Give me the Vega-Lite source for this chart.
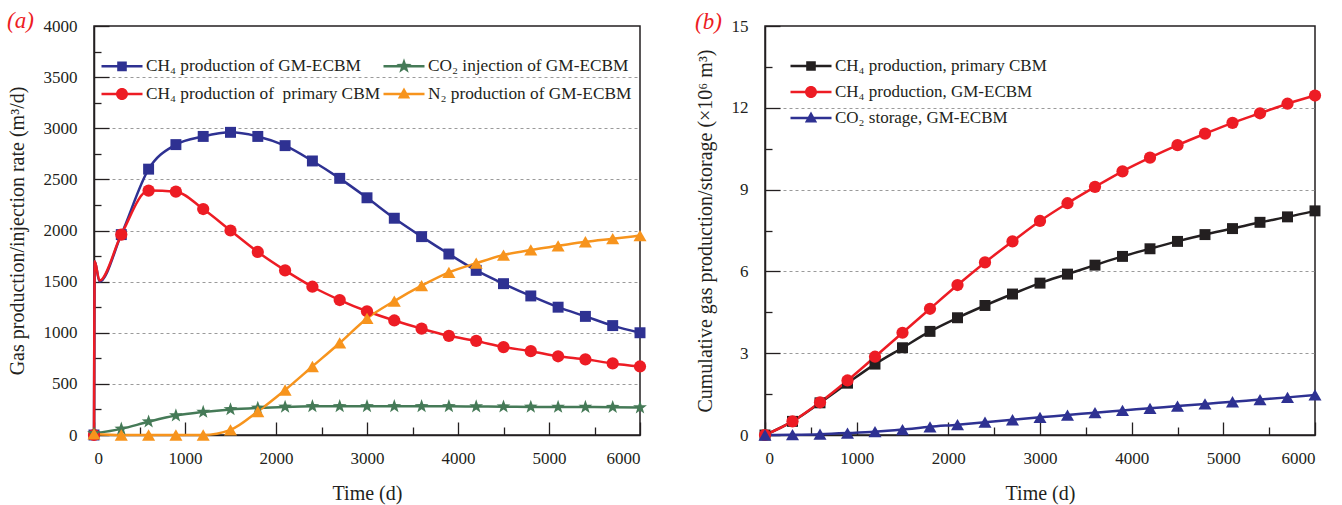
{
  "$schema": "https://vega.github.io/schema/vega-lite/v6.json",
  "background": "white",
  "padding": {"left": 6, "top": 9, "right": 6, "bottom": 2},
  "spacing": 46,
  "resolve": {
    "scale": {"color": "independent"},
    "legend": {"color": "independent"}
  },
  "config": {
    "font": "Liberation Serif",
    "view": {"stroke": "#231F20", "strokeWidth": 1.5},
    "axis": {
      "labelFont": "Liberation Serif", "labelFontSize": 17, "labelColor": "#231F20",
      "titleFont": "Liberation Serif", "titleFontSize": 20, "titleFontWeight": "normal", "titleColor": "#231F20",
      "domainColor": "#231F20", "domainWidth": 1.5, "tickColor": "#231F20", "tickWidth": 1.3,
      "gridColor": "#9a9a9a", "gridDash": [3, 3], "gridWidth": 1
    },
    "legend": {"labelFont": "Liberation Serif", "labelFontSize": 17.3, "labelColor": "#231F20", "labelLimit": 400}
  },
  "datasets": {
    "rate": [
      {"t": 0, "v": 0, "series": "CH₄ production of GM-ECBM"},
      {"t": 8, "v": 1700, "series": "CH₄ production of GM-ECBM"},
      {"t": 60, "v": 1500, "series": "CH₄ production of GM-ECBM"},
      {"t": 300, "v": 1960, "series": "CH₄ production of GM-ECBM"},
      {"t": 600, "v": 2600, "series": "CH₄ production of GM-ECBM"},
      {"t": 900, "v": 2840, "series": "CH₄ production of GM-ECBM"},
      {"t": 1200, "v": 2920, "series": "CH₄ production of GM-ECBM"},
      {"t": 1500, "v": 2960, "series": "CH₄ production of GM-ECBM"},
      {"t": 1800, "v": 2920, "series": "CH₄ production of GM-ECBM"},
      {"t": 2100, "v": 2830, "series": "CH₄ production of GM-ECBM"},
      {"t": 2400, "v": 2680, "series": "CH₄ production of GM-ECBM"},
      {"t": 2700, "v": 2510, "series": "CH₄ production of GM-ECBM"},
      {"t": 3000, "v": 2320, "series": "CH₄ production of GM-ECBM"},
      {"t": 3300, "v": 2120, "series": "CH₄ production of GM-ECBM"},
      {"t": 3600, "v": 1940, "series": "CH₄ production of GM-ECBM"},
      {"t": 3900, "v": 1770, "series": "CH₄ production of GM-ECBM"},
      {"t": 4200, "v": 1610, "series": "CH₄ production of GM-ECBM"},
      {"t": 4500, "v": 1480, "series": "CH₄ production of GM-ECBM"},
      {"t": 4800, "v": 1360, "series": "CH₄ production of GM-ECBM"},
      {"t": 5100, "v": 1250, "series": "CH₄ production of GM-ECBM"},
      {"t": 5400, "v": 1160, "series": "CH₄ production of GM-ECBM"},
      {"t": 5700, "v": 1070, "series": "CH₄ production of GM-ECBM"},
      {"t": 6000, "v": 1000, "series": "CH₄ production of GM-ECBM"},
      {"t": 0, "v": 0, "series": "CH₄ production of\u00a0 primary CBM"},
      {"t": 8, "v": 1700, "series": "CH₄ production of\u00a0 primary CBM"},
      {"t": 60, "v": 1510, "series": "CH₄ production of\u00a0 primary CBM"},
      {"t": 300, "v": 1960, "series": "CH₄ production of\u00a0 primary CBM"},
      {"t": 600, "v": 2390, "series": "CH₄ production of\u00a0 primary CBM"},
      {"t": 900, "v": 2380, "series": "CH₄ production of\u00a0 primary CBM"},
      {"t": 1200, "v": 2210, "series": "CH₄ production of\u00a0 primary CBM"},
      {"t": 1500, "v": 2000, "series": "CH₄ production of\u00a0 primary CBM"},
      {"t": 1800, "v": 1790, "series": "CH₄ production of\u00a0 primary CBM"},
      {"t": 2100, "v": 1610, "series": "CH₄ production of\u00a0 primary CBM"},
      {"t": 2400, "v": 1450, "series": "CH₄ production of\u00a0 primary CBM"},
      {"t": 2700, "v": 1320, "series": "CH₄ production of\u00a0 primary CBM"},
      {"t": 3000, "v": 1210, "series": "CH₄ production of\u00a0 primary CBM"},
      {"t": 3300, "v": 1120, "series": "CH₄ production of\u00a0 primary CBM"},
      {"t": 3600, "v": 1040, "series": "CH₄ production of\u00a0 primary CBM"},
      {"t": 3900, "v": 970, "series": "CH₄ production of\u00a0 primary CBM"},
      {"t": 4200, "v": 920, "series": "CH₄ production of\u00a0 primary CBM"},
      {"t": 4500, "v": 860, "series": "CH₄ production of\u00a0 primary CBM"},
      {"t": 4800, "v": 820, "series": "CH₄ production of\u00a0 primary CBM"},
      {"t": 5100, "v": 770, "series": "CH₄ production of\u00a0 primary CBM"},
      {"t": 5400, "v": 740, "series": "CH₄ production of\u00a0 primary CBM"},
      {"t": 5700, "v": 700, "series": "CH₄ production of\u00a0 primary CBM"},
      {"t": 6000, "v": 670, "series": "CH₄ production of\u00a0 primary CBM"},
      {"t": 0, "v": 15, "series": "CO₂ injection of GM-ECBM"},
      {"t": 300, "v": 60, "series": "CO₂ injection of GM-ECBM"},
      {"t": 600, "v": 130, "series": "CO₂ injection of GM-ECBM"},
      {"t": 900, "v": 190, "series": "CO₂ injection of GM-ECBM"},
      {"t": 1200, "v": 225, "series": "CO₂ injection of GM-ECBM"},
      {"t": 1500, "v": 250, "series": "CO₂ injection of GM-ECBM"},
      {"t": 1800, "v": 265, "series": "CO₂ injection of GM-ECBM"},
      {"t": 2100, "v": 275, "series": "CO₂ injection of GM-ECBM"},
      {"t": 2400, "v": 280, "series": "CO₂ injection of GM-ECBM"},
      {"t": 2700, "v": 280, "series": "CO₂ injection of GM-ECBM"},
      {"t": 3000, "v": 280, "series": "CO₂ injection of GM-ECBM"},
      {"t": 3300, "v": 280, "series": "CO₂ injection of GM-ECBM"},
      {"t": 3600, "v": 280, "series": "CO₂ injection of GM-ECBM"},
      {"t": 3900, "v": 280, "series": "CO₂ injection of GM-ECBM"},
      {"t": 4200, "v": 278, "series": "CO₂ injection of GM-ECBM"},
      {"t": 4500, "v": 277, "series": "CO₂ injection of GM-ECBM"},
      {"t": 4800, "v": 275, "series": "CO₂ injection of GM-ECBM"},
      {"t": 5100, "v": 274, "series": "CO₂ injection of GM-ECBM"},
      {"t": 5400, "v": 273, "series": "CO₂ injection of GM-ECBM"},
      {"t": 5700, "v": 272, "series": "CO₂ injection of GM-ECBM"},
      {"t": 6000, "v": 268, "series": "CO₂ injection of GM-ECBM"},
      {"t": 0, "v": 10, "series": "N₂ production of GM-ECBM"},
      {"t": 300, "v": 0, "series": "N₂ production of GM-ECBM"},
      {"t": 600, "v": 0, "series": "N₂ production of GM-ECBM"},
      {"t": 900, "v": 0, "series": "N₂ production of GM-ECBM"},
      {"t": 1200, "v": 0, "series": "N₂ production of GM-ECBM"},
      {"t": 1500, "v": 50, "series": "N₂ production of GM-ECBM"},
      {"t": 1800, "v": 230, "series": "N₂ production of GM-ECBM"},
      {"t": 2100, "v": 440, "series": "N₂ production of GM-ECBM"},
      {"t": 2400, "v": 670, "series": "N₂ production of GM-ECBM"},
      {"t": 2700, "v": 900, "series": "N₂ production of GM-ECBM"},
      {"t": 3000, "v": 1140, "series": "N₂ production of GM-ECBM"},
      {"t": 3300, "v": 1310, "series": "N₂ production of GM-ECBM"},
      {"t": 3600, "v": 1460, "series": "N₂ production of GM-ECBM"},
      {"t": 3900, "v": 1590, "series": "N₂ production of GM-ECBM"},
      {"t": 4200, "v": 1680, "series": "N₂ production of GM-ECBM"},
      {"t": 4500, "v": 1760, "series": "N₂ production of GM-ECBM"},
      {"t": 4800, "v": 1810, "series": "N₂ production of GM-ECBM"},
      {"t": 5100, "v": 1850, "series": "N₂ production of GM-ECBM"},
      {"t": 5400, "v": 1890, "series": "N₂ production of GM-ECBM"},
      {"t": 5700, "v": 1920, "series": "N₂ production of GM-ECBM"},
      {"t": 6000, "v": 1950, "series": "N₂ production of GM-ECBM"}
    ],
    "cum": [
      {"t": 0, "v": 0, "series": "CH₄ production, primary CBM"},
      {"t": 300, "v": 0.5, "series": "CH₄ production, primary CBM"},
      {"t": 600, "v": 1.18, "series": "CH₄ production, primary CBM"},
      {"t": 900, "v": 1.9, "series": "CH₄ production, primary CBM"},
      {"t": 1200, "v": 2.6, "series": "CH₄ production, primary CBM"},
      {"t": 1500, "v": 3.2, "series": "CH₄ production, primary CBM"},
      {"t": 1800, "v": 3.8, "series": "CH₄ production, primary CBM"},
      {"t": 2100, "v": 4.3, "series": "CH₄ production, primary CBM"},
      {"t": 2400, "v": 4.75, "series": "CH₄ production, primary CBM"},
      {"t": 2700, "v": 5.17, "series": "CH₄ production, primary CBM"},
      {"t": 3000, "v": 5.57, "series": "CH₄ production, primary CBM"},
      {"t": 3300, "v": 5.9, "series": "CH₄ production, primary CBM"},
      {"t": 3600, "v": 6.23, "series": "CH₄ production, primary CBM"},
      {"t": 3900, "v": 6.55, "series": "CH₄ production, primary CBM"},
      {"t": 4200, "v": 6.83, "series": "CH₄ production, primary CBM"},
      {"t": 4500, "v": 7.1, "series": "CH₄ production, primary CBM"},
      {"t": 4800, "v": 7.35, "series": "CH₄ production, primary CBM"},
      {"t": 5100, "v": 7.57, "series": "CH₄ production, primary CBM"},
      {"t": 5400, "v": 7.8, "series": "CH₄ production, primary CBM"},
      {"t": 5700, "v": 8.0, "series": "CH₄ production, primary CBM"},
      {"t": 6000, "v": 8.22, "series": "CH₄ production, primary CBM"},
      {"t": 0, "v": 0, "series": "CH₄ production, GM-ECBM"},
      {"t": 300, "v": 0.5, "series": "CH₄ production, GM-ECBM"},
      {"t": 600, "v": 1.2, "series": "CH₄ production, GM-ECBM"},
      {"t": 900, "v": 2.0, "series": "CH₄ production, GM-ECBM"},
      {"t": 1200, "v": 2.87, "series": "CH₄ production, GM-ECBM"},
      {"t": 1500, "v": 3.75, "series": "CH₄ production, GM-ECBM"},
      {"t": 1800, "v": 4.63, "series": "CH₄ production, GM-ECBM"},
      {"t": 2100, "v": 5.5, "series": "CH₄ production, GM-ECBM"},
      {"t": 2400, "v": 6.33, "series": "CH₄ production, GM-ECBM"},
      {"t": 2700, "v": 7.1, "series": "CH₄ production, GM-ECBM"},
      {"t": 3000, "v": 7.85, "series": "CH₄ production, GM-ECBM"},
      {"t": 3300, "v": 8.5, "series": "CH₄ production, GM-ECBM"},
      {"t": 3600, "v": 9.1, "series": "CH₄ production, GM-ECBM"},
      {"t": 3900, "v": 9.67, "series": "CH₄ production, GM-ECBM"},
      {"t": 4200, "v": 10.17, "series": "CH₄ production, GM-ECBM"},
      {"t": 4500, "v": 10.63, "series": "CH₄ production, GM-ECBM"},
      {"t": 4800, "v": 11.05, "series": "CH₄ production, GM-ECBM"},
      {"t": 5100, "v": 11.45, "series": "CH₄ production, GM-ECBM"},
      {"t": 5400, "v": 11.8, "series": "CH₄ production, GM-ECBM"},
      {"t": 5700, "v": 12.15, "series": "CH₄ production, GM-ECBM"},
      {"t": 6000, "v": 12.45, "series": "CH₄ production, GM-ECBM"},
      {"t": 0, "v": 0, "series": "CO₂ storage, GM-ECBM"},
      {"t": 300, "v": 0.01, "series": "CO₂ storage, GM-ECBM"},
      {"t": 600, "v": 0.03, "series": "CO₂ storage, GM-ECBM"},
      {"t": 900, "v": 0.07, "series": "CO₂ storage, GM-ECBM"},
      {"t": 1200, "v": 0.12, "series": "CO₂ storage, GM-ECBM"},
      {"t": 1500, "v": 0.2, "series": "CO₂ storage, GM-ECBM"},
      {"t": 1800, "v": 0.3, "series": "CO₂ storage, GM-ECBM"},
      {"t": 2100, "v": 0.38, "series": "CO₂ storage, GM-ECBM"},
      {"t": 2400, "v": 0.47, "series": "CO₂ storage, GM-ECBM"},
      {"t": 2700, "v": 0.56, "series": "CO₂ storage, GM-ECBM"},
      {"t": 3000, "v": 0.65, "series": "CO₂ storage, GM-ECBM"},
      {"t": 3300, "v": 0.73, "series": "CO₂ storage, GM-ECBM"},
      {"t": 3600, "v": 0.82, "series": "CO₂ storage, GM-ECBM"},
      {"t": 3900, "v": 0.9, "series": "CO₂ storage, GM-ECBM"},
      {"t": 4200, "v": 0.98, "series": "CO₂ storage, GM-ECBM"},
      {"t": 4500, "v": 1.06, "series": "CO₂ storage, GM-ECBM"},
      {"t": 4800, "v": 1.14, "series": "CO₂ storage, GM-ECBM"},
      {"t": 5100, "v": 1.22, "series": "CO₂ storage, GM-ECBM"},
      {"t": 5400, "v": 1.3, "series": "CO₂ storage, GM-ECBM"},
      {"t": 5700, "v": 1.38, "series": "CO₂ storage, GM-ECBM"},
      {"t": 6000, "v": 1.47, "series": "CO₂ storage, GM-ECBM"}
    ]
  },
  "hconcat": [
    {
      "width": 546,
      "height": 409,
      "title": {"text": "(a)", "anchor": "start", "frame": "bounds", "offset": -16, "color": "#ED1C24", "fontStyle": "italic", "fontWeight": "normal", "fontSize": 23, "font": "Liberation Serif"},
      "data": {"name": "rate"},
      "encoding": {
        "x": {
          "field": "t", "type": "quantitative",
          "scale": {"domain": [0, 6000], "nice": false},
          "axis": {
            "title": "Time (d)", "titlePadding": 17, "format": "d",
            "values": [0, 500, 1000, 1500, 2000, 2500, 3000, 3500, 4000, 4500, 5000, 5500, 6000],
            "labelExpr": "datum.value % 1000 === 0 ? datum.label : ''",
            "tickSize": {"condition": {"test": "datum.value % 1000 === 0", "value": -13}, "value": -8},
            "labelPadding": 28, "grid": false
          }
        },
        "y": {
          "field": "v", "type": "quantitative",
          "scale": {"domain": [0, 4000], "nice": false},
          "axis": {
            "title": "Gas production/injection rate (m³/d)", "titlePadding": 16, "format": "d",
            "values": [0, 250, 500, 750, 1000, 1250, 1500, 1750, 2000, 2250, 2500, 2750, 3000, 3250, 3500, 3750, 4000],
            "labelExpr": "datum.value % 500 === 0 ? datum.label : ''",
            "tickSize": {"condition": {"test": "datum.value % 500 === 0", "value": -15}, "value": -7},
            "labelPadding": 32,
            "grid": true,
            "gridOpacity": {"condition": {"test": "datum.value % 500 === 0 && datum.value > 0 && datum.value < 4000", "value": 1}, "value": 0}
          }
        },
        "color": {
          "field": "series", "type": "nominal",
          "scale": {
            "domain": ["CH₄ production of GM-ECBM", "CH₄ production of\u00a0 primary CBM", "CO₂ injection of GM-ECBM", "N₂ production of GM-ECBM"],
            "range": ["#2E3192", "#ED1C24", "#457A57", "#F7941D"]
          },
          "legend": {
            "title": null, "orient": "none", "legendX": 18, "legendY": 30,
            "columns": 2, "columnPadding": 2, "rowPadding": 9, "labelOffset": 14, "symbolSize": 400,
            "encoding": {
              "symbols": {
                "size": {"value": 400},
                "strokeWidth": {"value": 0},
                "opacity": {"value": 1},
                "fill": {
                  "condition": [
                    {"test": "datum.value === 'CH₄ production of GM-ECBM'", "value": "#2E3192"},
                    {"test": "datum.value === 'CO₂ injection of GM-ECBM'", "value": "#457A57"},
                    {"test": "datum.value === 'CH₄ production of\u00a0 primary CBM'", "value": "#ED1C24"}
                  ],
                  "value": "#F7941D"
                },
                "shape": {
                  "condition": [
                    {"test": "datum.value === 'CH₄ production of GM-ECBM'", "value": "M-2.05,-0.125H2.05V0.125H-2.05Z M-0.48,-0.48H0.48V0.48H-0.48Z"},
                    {"test": "datum.value === 'CO₂ injection of GM-ECBM'", "value": "M-2.05,-0.125H2.05V0.125H-2.05Z M0,-0.8L0.188,-0.259L0.761,-0.247L0.304,0.099L0.47,0.647L0,0.32L-0.47,0.647L-0.304,0.099L-0.761,-0.247L-0.188,-0.259Z"},
                    {"test": "datum.value === 'CH₄ production of\u00a0 primary CBM'", "value": "M-2.05,-0.125H2.05V0.125H-2.05Z M-0.6,0A0.6,0.6,0,1,1,0.6,0A0.6,0.6,0,1,1,-0.6,0Z"}
                  ],
                  "value": "M-2.05,-0.125H2.05V0.125H-2.05Z M0,-0.65L0.62,0.45L-0.62,0.45Z"
                }
              }
            }
          }
        }
      },
      "layer": [
        {"mark": {"type": "line", "interpolate": "monotone", "strokeWidth": 2.5}},
        {
          "transform": [{"filter": "datum.t % 300 === 0 && datum.series === 'CH₄ production of GM-ECBM'"}],
          "mark": {"type": "point", "filled": true, "opacity": 1, "size": 120, "shape": "square"}
        },
        {
          "transform": [{"filter": "datum.t % 300 === 0 && datum.series === 'CH₄ production of\u00a0 primary CBM'"}],
          "mark": {"type": "point", "filled": true, "opacity": 1, "size": 150, "shape": "circle"}
        },
        {
          "transform": [{"filter": "datum.t % 300 === 0 && datum.series === 'CO₂ injection of GM-ECBM'"}],
          "mark": {"type": "point", "filled": true, "opacity": 1, "size": 210, "shape": "M0,-1L0.235,-0.324L0.951,-0.309L0.38,0.124L0.588,0.809L0,0.4L-0.588,0.809L-0.38,0.124L-0.951,-0.309L-0.235,-0.324Z"}
        },
        {
          "transform": [{"filter": "datum.t % 300 === 0 && datum.series === 'N₂ production of GM-ECBM'"}],
          "mark": {"type": "point", "filled": true, "opacity": 1, "size": 170, "shape": "triangle-up"}
        }
      ]
    },
    {
      "width": 550,
      "height": 409,
      "title": {"text": "(b)", "anchor": "start", "frame": "bounds", "offset": -17, "color": "#ED1C24", "fontStyle": "italic", "fontWeight": "normal", "fontSize": 23, "font": "Liberation Serif"},
      "data": {"name": "cum"},
      "encoding": {
        "x": {
          "field": "t", "type": "quantitative",
          "scale": {"domain": [0, 6000], "nice": false},
          "axis": {
            "title": "Time (d)", "titlePadding": 17, "format": "d",
            "values": [0, 500, 1000, 1500, 2000, 2500, 3000, 3500, 4000, 4500, 5000, 5500, 6000],
            "labelExpr": "datum.value % 1000 === 0 ? datum.label : ''",
            "tickSize": {"condition": {"test": "datum.value % 1000 === 0", "value": -13}, "value": -8},
            "labelPadding": 28, "grid": false
          }
        },
        "y": {
          "field": "v", "type": "quantitative",
          "scale": {"domain": [0, 15], "nice": false},
          "axis": {
            "title": "Cumulative gas production/storage (×10⁶ m³)", "titlePadding": 16, "format": "d",
            "values": [0, 1.5, 3, 4.5, 6, 7.5, 9, 10.5, 12, 13.5, 15],
            "labelExpr": "datum.value % 3 === 0 ? datum.label : ''",
            "tickSize": {"condition": {"test": "datum.value % 3 === 0", "value": -15}, "value": -7},
            "labelPadding": 32,
            "grid": true,
            "gridOpacity": {"condition": {"test": "datum.value % 3 === 0 && datum.value > 0 && datum.value < 15", "value": 1}, "value": 0}
          }
        },
        "color": {
          "field": "series", "type": "nominal",
          "scale": {
            "domain": ["CH₄ production, primary CBM", "CH₄ production, GM-ECBM", "CO₂ storage, GM-ECBM"],
            "range": ["#231F20", "#ED1C24", "#2E3192"]
          },
          "legend": {
            "title": null, "orient": "none", "legendX": 36, "legendY": 30,
            "rowPadding": 8, "labelOffset": 14, "symbolSize": 400, "labelFontSize": 17,
            "encoding": {
              "symbols": {
                "size": {"value": 400},
                "strokeWidth": {"value": 0},
                "opacity": {"value": 1},
                "fill": {
                  "condition": [
                    {"test": "datum.value === 'CH₄ production, primary CBM'", "value": "#231F20"},
                    {"test": "datum.value === 'CH₄ production, GM-ECBM'", "value": "#ED1C24"}
                  ],
                  "value": "#2E3192"
                },
                "shape": {
                  "condition": [
                    {"test": "datum.value === 'CH₄ production, primary CBM'", "value": "M-2.05,-0.125H2.05V0.125H-2.05Z M-0.48,-0.48H0.48V0.48H-0.48Z"},
                    {"test": "datum.value === 'CH₄ production, GM-ECBM'", "value": "M-2.05,-0.125H2.05V0.125H-2.05Z M-0.6,0A0.6,0.6,0,1,1,0.6,0A0.6,0.6,0,1,1,-0.6,0Z"}
                  ],
                  "value": "M-2.05,-0.125H2.05V0.125H-2.05Z M0,-0.65L0.62,0.45L-0.62,0.45Z"
                }
              }
            }
          }
        }
      },
      "layer": [
        {"mark": {"type": "line", "interpolate": "monotone", "strokeWidth": 2.5}},
        {
          "transform": [{"filter": "datum.series === 'CH₄ production, primary CBM'"}],
          "mark": {"type": "point", "filled": true, "opacity": 1, "size": 120, "shape": "square"}
        },
        {
          "transform": [{"filter": "datum.series === 'CH₄ production, GM-ECBM'"}],
          "mark": {"type": "point", "filled": true, "opacity": 1, "size": 150, "shape": "circle"}
        },
        {
          "transform": [{"filter": "datum.series === 'CO₂ storage, GM-ECBM'"}],
          "mark": {"type": "point", "filled": true, "opacity": 1, "size": 170, "shape": "triangle-up"}
        }
      ]
    }
  ]
}
